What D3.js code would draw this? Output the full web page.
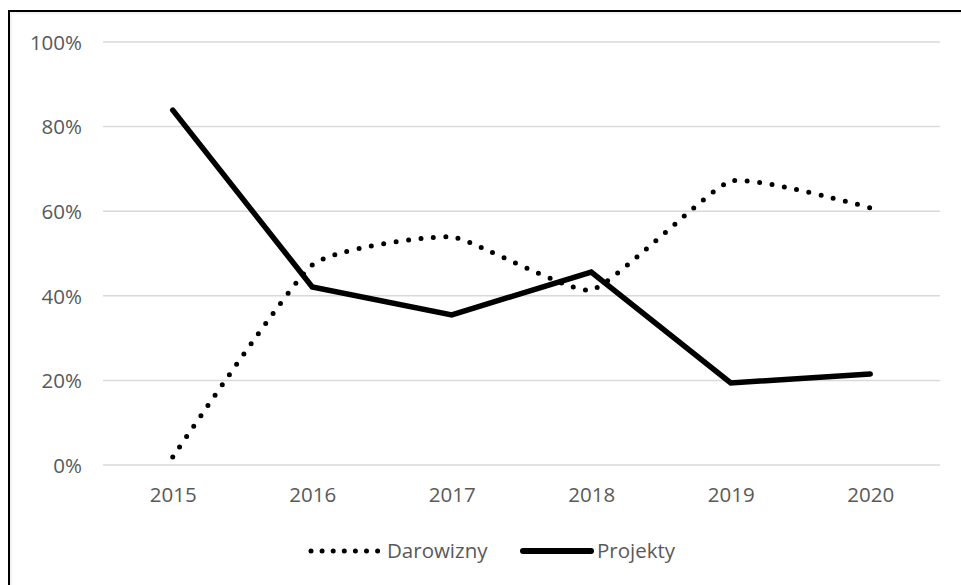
<!DOCTYPE html>
<html><head><meta charset="utf-8">
<script src="https://cdn.jsdelivr.net/npm/d3@7"></script>
<style>body{margin:0;background:#fff}svg{display:block}text{font-family:"Open Sans",sans-serif;fill:#595959}</style>
</head><body><svg id="c" width="961" height="585"></svg>
<script>
const years = ["2015","2016","2017","2018","2019","2020"];
const darowizny = [0.019, 0.473, 0.539, 0.414, 0.671, 0.608];
const projekty = [0.839, 0.421, 0.355, 0.456, 0.194, 0.215];
const yTicks = [0, 0.2, 0.4, 0.6, 0.8, 1.0];
const seriesNames = ["Darowizny", "Projekty"];

const svg = d3.select("#c");
const fs = 20.5;
// frame
svg.append("rect").attr("x", 9).attr("y", 11).attr("width", 1000).attr("height", 1000)
  .attr("fill", "none").attr("stroke", "#000").attr("stroke-width", 2);
svg.append("rect").attr("x", 11).attr("y", 13).attr("width", 1000).attr("height", 1000)
  .attr("fill", "none").attr("stroke", "#e6e6e6").attr("stroke-width", 1);

const pLeft = 103, pRight = 940, pTop = 42, pBottom = 465;
const x = d3.scalePoint().domain(years).range([pLeft, pRight]).padding(0.5);
const y = d3.scaleLinear().domain([0, 1]).range([pBottom, pTop]);

// gridlines
svg.append("g").selectAll("line").data(yTicks).join("line")
  .attr("x1", pLeft).attr("x2", pRight)
  .attr("y1", d => y(d)).attr("y2", d => y(d))
  .attr("stroke", "#d9d9d9").attr("stroke-width", 1.5);

// y axis labels
const yAxis = d3.axisLeft(y).tickValues(yTicks).tickFormat(d3.format(".0%")).tickSize(0).tickPadding(0);
const gy = svg.append("g").attr("transform", `translate(${pLeft - 21},0)`).call(yAxis);
gy.select(".domain").remove();
gy.selectAll("text").attr("font-size", fs).attr("font-family", "Open Sans").attr("fill", "#595959").attr("dy", "0.36em");

// x axis labels
const xAxis = d3.axisBottom(x).tickSize(0).tickPadding(0);
const gx = svg.append("g").attr("transform", `translate(0,${pBottom + 22})`).call(xAxis);
gx.select(".domain").remove();
gx.selectAll("text").attr("font-size", fs).attr("font-family", "Open Sans").attr("fill", "#595959").attr("dy", "0.72em");

// lines
const lineSmooth = d3.line().x((d, i) => x(years[i])).y(d => y(d)).curve(d3.curveCardinal.tension(0.55));
const lineStraight = d3.line().x((d, i) => x(years[i])).y(d => y(d));

svg.append("path").datum(darowizny).attr("d", lineSmooth)
  .attr("fill", "none").attr("stroke", "#000").attr("stroke-width", 5)
  .attr("stroke-linecap", "round").attr("stroke-dasharray", "0 12.5");
svg.append("path").datum(projekty).attr("d", lineStraight)
  .attr("fill", "none").attr("stroke", "#000").attr("stroke-width", 5.5)
  .attr("stroke-linejoin", "miter").attr("stroke-linecap", "round");

// legend
const ly = 551;
const lg = svg.append("g");
lg.append("line").attr("x1", 311).attr("x2", 378).attr("y1", ly).attr("y2", ly)
  .attr("stroke", "#000").attr("stroke-width", 5).attr("stroke-linecap", "round").attr("stroke-dasharray", "0 11.1");
lg.append("text").attr("x", 387).attr("y", ly).attr("dy", "0.36em").attr("font-size", fs).text(seriesNames[0]);
lg.append("line").attr("x1", 523).attr("x2", 591).attr("y1", ly).attr("y2", ly)
  .attr("stroke", "#000").attr("stroke-width", 6).attr("stroke-linecap", "round");
lg.append("text").attr("x", 597).attr("y", ly).attr("dy", "0.36em").attr("font-size", fs).text(seriesNames[1]);
</script></body></html>
